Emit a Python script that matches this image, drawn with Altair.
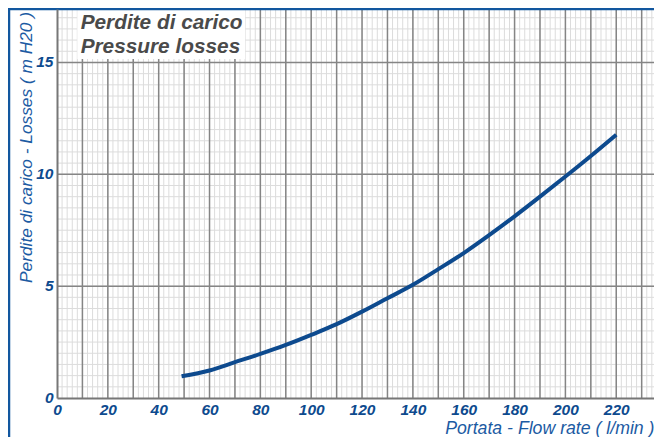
import altair as alt
import pandas as pd

# Curve data
flow = [49, 60, 70, 80, 90, 100, 110, 120, 130, 140, 150, 160, 170, 180, 190, 200, 210, 220]
loss = [0.97, 1.23, 1.60, 1.97, 2.37, 2.82, 3.30, 3.86, 4.46, 5.06, 5.76, 6.48, 7.28, 8.12, 9.00, 9.90, 10.82, 11.77]

# Axes / grid
x_ticks = [0, 20, 40, 60, 80, 100, 120, 140, 160, 180, 200, 220]
y_ticks = [0, 5, 10, 15]
x_major = list(range(10, 240, 10))
x_minor = list(range(2, 236, 2))
y_major = [5, 10, 15]
y_minor = [i * 0.5 for i in range(1, 35)]

title_lines = ["Perdite di carico", "Pressure losses"]
title_x = [9.3, 9.3]
title_y = [16.5, 15.42]
box_x = [8]
box_x2 = [74]
box_y = [15.15]
box_y2 = [17.39]

X_MAX = 234.85
Y_MAX = 17.39
BLUE = "#0d4a8e"
TITLE_BLUE = "#1c5ba3"
FRAME_BLUE = "#12579f"

xs = alt.Scale(domain=[0, X_MAX], nice=False, zero=False)
ys = alt.Scale(domain=[0, Y_MAX], nice=False, zero=False)

x_axis = alt.Axis(
    values=x_ticks, grid=False, ticks=False, domainColor="#777777", domainWidth=2,
    labelFont="Liberation Sans", labelFontWeight="bold", labelFontStyle="italic",
    labelFontSize=15.5, labelColor=BLUE, labelPadding=4, labelFlush=False,
    title="Portata - Flow rate ( l/min )", titleFont="Liberation Sans",
    titleFontStyle="italic", titleFontWeight="normal", titleFontSize=17.7,
    titleColor=TITLE_BLUE, titleX=597, titleY=35.5, titleAlign="right",
    titleBaseline="alphabetic", zindex=1)
y_axis = alt.Axis(
    values=y_ticks, grid=False, ticks=False, domainColor="#777777", domainWidth=2,
    labelFont="Liberation Sans", labelFontWeight="bold", labelFontStyle="italic",
    labelFontSize=15.5, labelColor=BLUE, labelPadding=4, labelFlush=False,
    labelBaseline="middle", labelOffset=-1,
    title="Perdite di carico - Losses ( m H20 )", titleFont="Liberation Sans",
    titleFontStyle="italic", titleFontWeight="normal", titleFontSize=17.3,
    titleColor=TITLE_BLUE, titleAngle=270, titleX=-25.6, titleY=138,
    titleAlign="center", titleBaseline="alphabetic", zindex=1)

curve_df = pd.DataFrame({"flow": flow, "loss": loss})

minor_v = alt.Chart(pd.DataFrame({"v": x_minor})).mark_rule(color="#dcdcdc", strokeWidth=1).encode(
    x=alt.X("v:Q", scale=xs, axis=x_axis))
minor_h = alt.Chart(pd.DataFrame({"v": y_minor})).mark_rule(color="#dcdcdc", strokeWidth=1).encode(
    y=alt.Y("v:Q", scale=ys, axis=y_axis))
major_v = alt.Chart(pd.DataFrame({"v": x_major})).mark_rule(color="#858585", strokeWidth=1.5).encode(
    x=alt.X("v:Q", scale=xs, axis=x_axis))
major_h = alt.Chart(pd.DataFrame({"v": y_major})).mark_rule(color="#858585", strokeWidth=1.5).encode(
    y=alt.Y("v:Q", scale=ys, axis=y_axis))

line = alt.Chart(curve_df).mark_line(color=BLUE, strokeWidth=4, interpolate="monotone").encode(
    x=alt.X("flow:Q", scale=xs, axis=x_axis),
    y=alt.Y("loss:Q", scale=ys, axis=y_axis),
)

box = alt.Chart(pd.DataFrame({"x": box_x, "x2": box_x2, "y": box_y, "y2": box_y2})).mark_rect(
    color="white").encode(
    x=alt.X("x:Q", scale=xs, axis=x_axis), x2="x2:Q",
    y=alt.Y("y:Q", scale=ys, axis=y_axis), y2="y2:Q")

title_txt = alt.Chart(pd.DataFrame({"t": title_lines, "x": title_x, "y": title_y})).mark_text(
    align="left", baseline="alphabetic", font="Liberation Sans", fontSize=20.8,
    fontWeight="bold", fontStyle="italic", color="#4a4a4a").encode(
    x=alt.X("x:Q", scale=xs, axis=x_axis), y=alt.Y("y:Q", scale=ys, axis=y_axis), text="t:N")

frame_left = alt.Chart(pd.DataFrame({"a": [0]})).mark_rule(color=FRAME_BLUE, strokeWidth=2.5).encode(
    x=alt.value(-48), y=alt.value(-2), y2=alt.value(460))
frame_top = alt.Chart(pd.DataFrame({"a": [0]})).mark_rule(color=FRAME_BLUE, strokeWidth=2.5).encode(
    x=alt.value(-49.5), x2=alt.value(720), y=alt.value(0))

chart = alt.layer(
    minor_v, minor_h, major_v, major_h, box, title_txt, line, frame_left, frame_top
).properties(
    width=597, height=389,
    autosize=alt.AutoSizeParams(type="none"),
    padding={"left": 49, "top": 1, "right": 0, "bottom": 39},
    background="white",
).configure_view(stroke=None)

chart.save("out.html", embed_options={"renderer": "svg", "actions": False})
